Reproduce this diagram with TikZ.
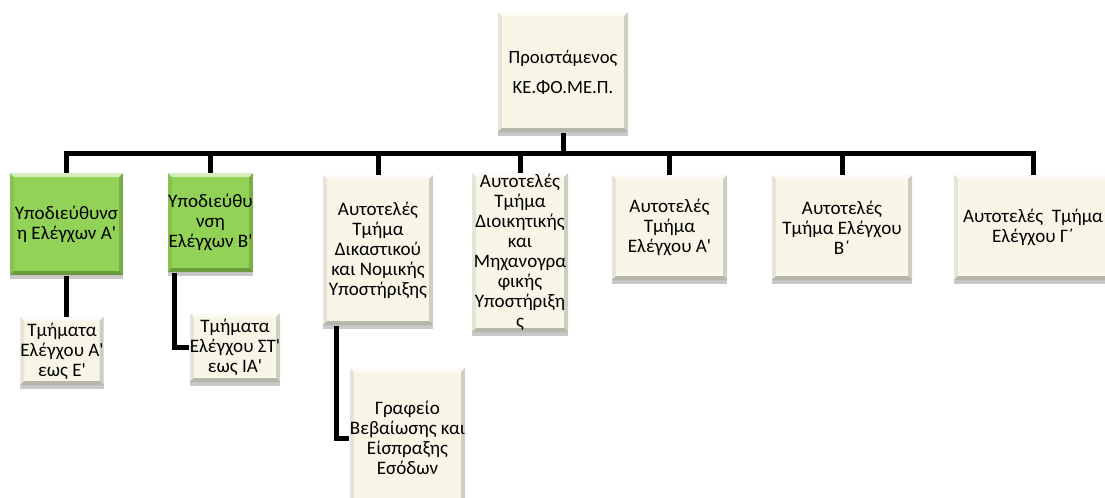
\documentclass[tikz,border=0pt]{standalone}
\usepackage{fontspec}
\setmainfont{Carlito}[Ligatures=TeXOff]
\usetikzlibrary{shadows}

\definecolor{boxcream}{RGB}{248,246,231}
\definecolor{boxgreen}{RGB}{146,210,86}

\tikzset{every picture/.style={line width=0.75pt}}
\tikzset{
  bevelled/.style={path picture={
    \begin{scope}[reset cm]
      \fill[white,opacity=0.6] (path picture bounding box.north west) -- (path picture bounding box.north east) -- ([shift={(-3pt,-3pt)}]path picture bounding box.north east) -- ([shift={(3pt,-3pt)}]path picture bounding box.north west) -- cycle;
      \fill[black,opacity=0.07] (path picture bounding box.north west) -- ([shift={(3pt,-3pt)}]path picture bounding box.north west) -- ([shift={(3pt,3pt)}]path picture bounding box.south west) -- (path picture bounding box.south west) -- cycle;
      \fill[black,opacity=0.16] (path picture bounding box.north east) -- ([shift={(-3pt,-3pt)}]path picture bounding box.north east) -- ([shift={(-3pt,3pt)}]path picture bounding box.south east) -- (path picture bounding box.south east) -- cycle;
      \fill[black,opacity=0.26] (path picture bounding box.south west) -- ([shift={(3pt,3pt)}]path picture bounding box.south west) -- ([shift={(-3pt,3pt)}]path picture bounding box.south east) -- (path picture bounding box.south east) -- cycle;
    \end{scope}}},
  unitbox/.style={fill=boxcream, inner sep=0pt, align=center, bevelled,
    font=\fontsize{14.3}{15}\selectfont,
    drop shadow={shadow xshift=0pt, shadow yshift=-3pt, opacity=0.3, fill=black!70}},
  orgline/.style={line width=3.75pt, black},
}

\begin{document}
\begin{tikzpicture}[x=0.75pt,y=0.75pt,yscale=-1,xscale=1]
\useasboundingbox (0,0) rectangle (1105,497);
\clip (0,0) rectangle (1105,497);

%Shape: Rectangle
\node[unitbox, font=\fontsize{14}{22.5}\selectfont, minimum width=97.5pt, minimum height=90pt] (head) at (563,72) {Προιστάμενος\\ΚΕ.ΦΟ.ΜΕ.Π.};

%Shape: Rectangle
\node[unitbox, fill=boxgreen, minimum width=84.75pt, minimum height=76.5pt] (subA) at (66.5,224) {Υποδιεύθυνσ\\η Ελέγχων Α'};
%Shape: Rectangle
\node[unitbox, fill=boxgreen, minimum width=63.75pt, minimum height=74.25pt] (subB) at (210.5,222.5) {Υποδιεύθυ\\νση\\Ελέγχων Β'};
%Shape: Rectangle
\node[unitbox, minimum width=82.5pt, minimum height=112.5pt] (selfJud) at (378,250) {Αυτοτελές\\Τμήμα\\Δικαστικού\\και Νομικής\\Υποστήριξης};
%Shape: Rectangle
\node[unitbox, minimum width=72pt, minimum height=119.25pt] (selfAdm) at (520,252.5) {Αυτοτελές\\Τμήμα\\Διοικητικής\\και\\Μηχανογρα\\φικής\\Υποστήριξη\\ς};
%Shape: Rectangle
\node[unitbox, minimum width=86.25pt, minimum height=78.75pt] (selfA) at (669.5,227.5) {Αυτοτελές\\Τμήμα\\Ελέγχου Α'};
%Shape: Rectangle
\node[unitbox, minimum width=105pt, minimum height=78.75pt] (selfB) at (842,227.5) {Αυτοτελές\\Τμήμα Ελέγχου\\Β΄};
%Shape: Rectangle
\node[unitbox, minimum width=118.5pt, minimum height=78.75pt] (selfC) at (1033,227.5) {Αυτοτελές\ \ Τμήμα\\Ελέγχου Γ΄};

%Shape: Rectangle
\node[unitbox, minimum width=60pt, minimum height=51pt] (unitsA) at (62,351) {Τμήματα\\Ελέγχου Α'\\εως Ε'};
%Shape: Rectangle
\node[unitbox, minimum width=67.5pt, minimum height=51.75pt] (unitsB) at (235,347.5) {Τμήματα\\Ελέγχου ΣΤ'\\εως ΙΑ'};
%Shape: Rectangle
\node[unitbox, minimum width=86.25pt, minimum height=105pt] (office) at (407.5,438) {Γραφείο\\Βεβαίωσης και\\Είσπραξης\\Εσόδων};

%Straight Lines
\coordinate (bus) at (563,153);
\draw[orgline] (head.south) -- (bus);
\draw[orgline] (bus) -| (subA.north);
\draw[orgline] (bus) -| (subB.north);
\draw[orgline] (bus) -| (selfJud.north);
\draw[orgline] (bus) -| (selfAdm.north);
\draw[orgline] (bus) -| (selfA.north);
\draw[orgline] (bus) -| (selfB.north);
\draw[orgline] (bus) -| (selfC.north);
%Straight Lines
\draw[orgline] (subA.south) -- (subA.south |- unitsA.north);
\draw[orgline] ([xshift=5pt]subB.south west) |- (unitsB.west);
\draw[orgline] ([xshift=10.5pt]selfJud.south west) |- (office.west);

\end{tikzpicture}
\end{document}
